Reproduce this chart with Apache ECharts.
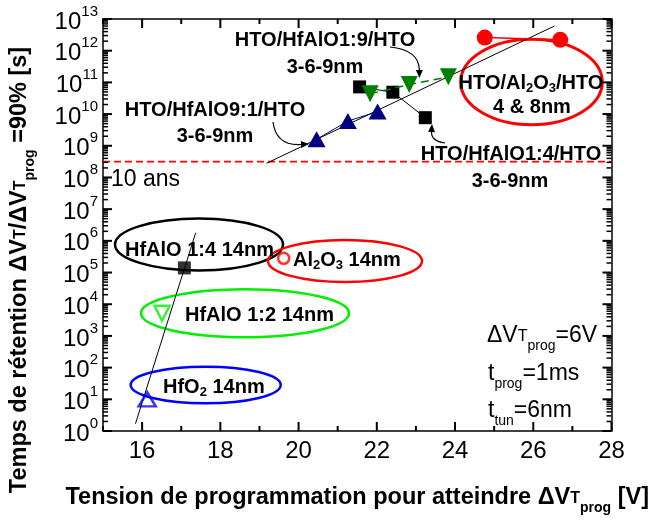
<!DOCTYPE html>
<html>
<head>
<meta charset="utf-8">
<script src="https://cdn.jsdelivr.net/npm/echarts@6/dist/echarts.min.js"></script>
<style>
html,body{margin:0;padding:0;background:#fff;}
#chart{width:652px;height:520px;}
</style>
</head>
<body>
<div id="chart"></div>
<script>
// ---- data ----
const hto91X = [20.46, 21.26, 22.02];            // HTO/HfAlO9:1/HTO (navy triangles)
const hto91Y = [1.6e9, 6e9, 1.2e10];
const hto14X = [21.56, 22.41, 23.24];            // HTO/HfAlO1:4/HTO (black squares)
const hto14Y = [7.2e10, 4.9e10, 7.7e9];
const hto19X = [21.83, 22.83, 23.83];            // HTO/HfAlO1:9/HTO (green down triangles)
const hto19Y = [4.4e10, 8.5e10, 1.5e11];
const htoAlX = [24.76, 26.69];                   // HTO/Al2O3/HTO (red circles)
const htoAlY = [2.6e12, 2.2e12];
const hfalo14X = [17.08];  const hfalo14Y = [1.4e5];   // HfAlO 1:4 14nm
const hfalo12X = [16.51];  const hfalo12Y = [5.2e3];   // HfAlO 1:2 14nm
const hfo2X = [16.13];     const hfo2Y = [10];         // HfO2 14nm
const al2o3X = [19.62];    const al2o3Y = [2.8e5];     // Al2O3 14nm
const trendHighX = [19.18, 26.54]; const trendHighY = [2.8e8, 6e12];
const trendLowX = [15.83, 17.37];  const trendLowY = [1.7, 1.8e6];
const tenYears = 3.15e8;
const xRange = [15, 28];
const yRange = [1, 1e13];
const xMajor = [16, 18, 20, 22, 24, 26, 28];
const xMinor = [15, 17, 19, 21, 23, 25, 27];
const yMajor = [1e0,1e1,1e2,1e3,1e4,1e5,1e6,1e7,1e8,1e9,1e10,1e11,1e12,1e13];
const yMinorMantissa = [2, 3, 4, 5, 6, 7, 8, 9];
const yMinor = [];
for (let e = 0; e < 13; e++) yMinorMantissa.forEach(m => yMinor.push(m * Math.pow(10, e)));

const zip = (xs, ys) => xs.map((x, i) => [x, ys[i]]);
const FONT = 'Liberation Sans, Arial, Helvetica, sans-serif';

const chart = echarts.init(document.getElementById('chart'), null, {renderer: 'canvas'});

const boldRich = (size) => ({
  b: {fontSize: size, fontWeight: 'bold', fontFamily: FONT, color: '#000', lineHeight: 34},
  t: {fontSize: 16, fontWeight: 'bold', fontFamily: FONT, color: '#000', verticalAlign: 'bottom', padding: [0,0,8,0]},
  p: {fontSize: 14, fontWeight: 'bold', fontFamily: FONT, color: '#000', verticalAlign: 'bottom'}
});

const xAxis = [{
  type: 'value', min: xRange[0], max: xRange[1], position: 'bottom',
  axisLine: {show: true, onZero: false, lineStyle: {color: '#000', width: 1.5}},
  axisTick: {show: false},
  axisLabel: {show: true, customValues: xMajor, fontSize: 24, color: '#000', fontFamily: FONT, margin: 8},
  splitLine: {show: false},
  name: '{b|Tension de programmation pour atteindre ΔV}{t|T}{p|prog}{b| [V]}',
  nameLocation: 'middle', nameGap: 50,
  nameTextStyle: {rich: boldRich(23.5)}
}, {
  type: 'value', min: xRange[0], max: xRange[1], position: 'top',
  axisLine: {show: true, onZero: false, lineStyle: {color: '#000', width: 1.5}},
  axisTick: {show: false}, axisLabel: {show: false}, splitLine: {show: false}
}];

const yAxis = [{
  type: 'log', logBase: 10, min: yRange[0], max: yRange[1], position: 'left',
  axisLine: {show: true, onZero: false, lineStyle: {color: '#000', width: 1.5}},
  axisTick: {show: false},
  axisLabel: {
    show: true, customValues: yMajor, margin: 5, color: '#000',
    formatter: v => '{b|10}{s|' + Math.round(Math.log10(v)) + '}',
    rich: {
      b: {fontSize: 24, fontFamily: FONT, color: '#000', lineHeight: 30, verticalAlign: 'bottom'},
      s: {fontSize: 15, fontFamily: FONT, color: '#000', verticalAlign: 'top', lineHeight: 16}
    }
  },
  splitLine: {show: false},
  name: '{b|Temps de rétention ΔV}{t|T}{b|/ΔV}{t|T}{p|prog}{b| =90% [s]}',
  nameLocation: 'middle', nameRotate: 90, nameGap: 66,
  nameTextStyle: {padding: [0, 90, 0, 0], rich: boldRich(23.5)}
}, {
  type: 'log', logBase: 10, min: yRange[0], max: yRange[1], position: 'right',
  axisLine: {show: true, onZero: false, lineStyle: {color: '#000', width: 1.5}},
  axisTick: {show: false}, axisLabel: {show: false}, splitLine: {show: false}
}];

// inside tick marks on all four sides: thin rect symbols placed through the axes' scales
const tickSeries = (points, size, offset) => ({
  type: 'scatter', silent: true, clip: false, z: 20,
  data: points, symbol: 'rect', symbolSize: size, symbolOffset: offset,
  itemStyle: {color: '#000', opacity: 1}
});
const TW = 2;
const ticks = [
  tickSeries(xMajor.map(v => [v, yRange[0]]), [TW, 9], [0, -4.5]),
  tickSeries(xMinor.map(v => [v, yRange[0]]), [TW, 5], [0, -2.5]),
  tickSeries(xMajor.map(v => [v, yRange[1]]), [TW, 9], [0, 4.5]),
  tickSeries(xMinor.map(v => [v, yRange[1]]), [TW, 5], [0, 2.5]),
  tickSeries(yMajor.map(v => [xRange[0], v]), [9, TW], [4.5, 0]),
  tickSeries(yMinor.map(v => [xRange[0], v]), [5, 1.5], [2.5, 0]),
  tickSeries(yMajor.map(v => [xRange[1], v]), [9, TW], [-4.5, 0]),
  tickSeries(yMinor.map(v => [xRange[1], v]), [5, 1.5], [-2.5, 0])
];

const txt = (x, y, text, opts) => ({
  type: 'text', x: x, y: y, z: 10,
  style: Object.assign({text: text, font: 'bold 20px ' + FONT, fill: '#000', align: 'center', verticalAlign: 'middle'}, opts || {})
});
const subRich = {
  s: {fontSize: 13, fontWeight: 'bold', fontFamily: FONT, verticalAlign: 'bottom'},
  n: {fontSize: 20, fontWeight: 'bold', fontFamily: FONT, lineHeight: 24}
};
const ell = (cx, cy, rx, ry, color, w) => ({
  type: 'ellipse', z: 1, shape: {cx: cx, cy: cy, rx: rx, ry: ry},
  style: {fill: 'none', stroke: color, lineWidth: w}
});
const arrowCurve = (x1, y1, cx, cy, x2, y2) => {
  const ang = Math.atan2(y2 - cy, x2 - cx);
  const L = 8, W = 3.5;
  const bx = x2 - L * Math.cos(ang), by = y2 - L * Math.sin(ang);
  const px = -Math.sin(ang) * W, py = Math.cos(ang) * W;
  return [
    {type: 'bezierCurve', z: 5, shape: {x1: x1, y1: y1, cpx1: cx, cpy1: cy, x2: bx, y2: by},
     style: {stroke: '#000', lineWidth: 1.2, fill: 'none'}},
    {type: 'polygon', z: 5, shape: {points: [[x2, y2], [bx + px, by + py], [bx - px, by - py]]},
     style: {fill: '#000'}}
  ];
};
const smallTxt = (x, y, main, sub, rest, extraT) => ({
  type: 'text', x: x, y: y, z: 10,
  style: {
    text: '{n|' + main + '}' + (extraT ? '{t|T}' : '') + '{s|' + sub + '}{n|' + rest + '}',
    align: 'left', verticalAlign: 'middle', fill: '#000',
    rich: {
      n: {fontSize: 23, fontFamily: FONT, color: '#000', lineHeight: 34},
      t: {fontSize: 16, fontFamily: FONT, color: '#000', verticalAlign: 'bottom', padding: [0,0,8,0]},
      s: {fontSize: 14, fontFamily: FONT, color: '#000', verticalAlign: 'bottom'}
    }
  }
});

const graphics = [
  ell(199, 244.5, 84, 26, '#000', 2.5),
  ell(345, 261, 77, 21, '#ff0000', 2.5),
  ell(245, 313.3, 104, 24, '#00ee00', 2.5),
  ell(205.7, 385, 75, 18.3, '#0000ff', 2.5),
  ell(531.5, 82, 70.8, 42.8, '#ff0000', 3),
  txt(325, 40, 'HTO/HfAlO1:9/HTO'),
  txt(325, 67, '3-6-9nm'),
  txt(215, 110, 'HTO/HfAlO9:1/HTO'),
  txt(215, 136, '3-6-9nm'),
  txt(511, 154, 'HTO/HfAlO1:4/HTO'),
  txt(510, 181, '3-6-9nm'),
  {type: 'text', x: 531, y: 83, z: 10, style: {text: '{n|HTO/Al}{s|2}{n|O}{s|3}{n|/HTO}', align: 'center', verticalAlign: 'middle', fill: '#000', rich: subRich}},
  txt(532, 107, '4 & 8nm'),
  txt(125, 250, 'HfAlO 1:4 14nm', {align: 'left'}),
  {type: 'text', x: 293, y: 260, z: 10, style: {text: '{n|Al}{s|2}{n|O}{s|3}{n| 14nm}', align: 'left', verticalAlign: 'middle', fill: '#000', rich: subRich}},
  txt(185, 315, 'HfAlO 1:2 14nm', {align: 'left'}),
  {type: 'text', x: 163, y: 387, z: 10, style: {text: '{n|HfO}{s|2}{n| 14nm}', align: 'left', verticalAlign: 'middle', fill: '#000', rich: subRich}},
  {type: 'text', x: 111, y: 180, z: 10, style: {text: '10 ans', font: '23px ' + FONT, fill: '#000', align: 'left', verticalAlign: 'middle'}},
  smallTxt(487, 336, 'ΔV', 'prog', '=6V', true),
  smallTxt(488, 374, 't', 'prog', '=1ms', false),
  smallTxt(488, 411, 't', 'tun', '=6nm', false)
].concat(
  arrowCurve(273, 122, 276, 146, 309, 144),
  arrowCurve(390, 47, 419, 50, 419.5, 78),
  arrowCurve(445, 143, 431, 141, 432, 124)
);

const option = {
  backgroundColor: '#fff',
  animation: false,
  grid: {left: 103, right: 39, top: 19, bottom: 86, containLabel: false},
  xAxis: xAxis,
  yAxis: yAxis,
  series: ticks.concat([
    {type: 'line', name: '10 ans', data: [[xRange[0], tenYears], [xRange[1], tenYears]], symbol: 'none',
     lineStyle: {color: '#ff0000', type: [7, 4], width: 1.6}, itemStyle: {color: '#ff0000'}, z: 3},
    {type: 'line', name: 'trend high', data: zip(trendHighX, trendHighY), symbol: 'none',
     lineStyle: {color: '#000', width: 1}, z: 3},
    {type: 'line', name: 'trend low', data: zip(trendLowX, trendLowY), symbol: 'none',
     lineStyle: {color: '#000', width: 1}, z: 3},
    {type: 'line', name: 'HTO/HfAlO1:4/HTO', data: zip(hto14X, hto14Y), symbol: 'rect', symbolSize: 13,
     itemStyle: {color: '#000'}, lineStyle: {color: '#000', width: 1}, z: 4},
    {type: 'line', name: 'HTO/HfAlO1:9/HTO', data: zip(hto19X, hto19Y), symbol: 'triangle', symbolRotate: 180, symbolSize: 17,
     itemStyle: {color: '#007f00'}, lineStyle: {color: '#007f00', width: 1.5, type: [8, 5]}, z: 5},
    {type: 'line', name: 'HTO/HfAlO9:1/HTO', data: zip(hto91X, hto91Y), symbol: 'triangle', symbolSize: [18, 16],
     itemStyle: {color: '#000080'}, lineStyle: {color: '#000080', width: 1}, z: 5},
    {type: 'line', name: 'HTO/Al2O3/HTO', data: zip(htoAlX, htoAlY), symbol: 'circle', symbolSize: 16,
     itemStyle: {color: '#ff0000'}, lineStyle: {color: '#ff0000', width: 1.5}, z: 5},
    {type: 'scatter', name: 'HfAlO 1:4 14nm', data: zip(hfalo14X, hfalo14Y), symbol: 'rect', symbolSize: 13,
     itemStyle: {color: '#000'}, z: 5},
    {type: 'scatter', name: 'HfAlO 1:2 14nm', data: zip(hfalo12X, hfalo12Y), symbol: 'triangle', symbolRotate: 180, symbolSize: 15,
     itemStyle: {color: 'none', borderColor: '#00ee00', borderWidth: 2.5}, z: 5},
    {type: 'scatter', name: 'HfO2 14nm', data: zip(hfo2X, hfo2Y), symbol: 'triangle', symbolSize: [17, 14],
     itemStyle: {color: 'none', borderColor: '#0000ff', borderWidth: 2.5}, z: 5},
    {type: 'scatter', name: 'Al2O3 14nm', data: zip(al2o3X, al2o3Y), symbol: 'circle', symbolSize: 11,
     itemStyle: {color: 'none', borderColor: '#ff0000', borderWidth: 2.5}, z: 5}
  ]),
  graphic: graphics
};
chart.setOption(option);
</script>
</body>
</html>
